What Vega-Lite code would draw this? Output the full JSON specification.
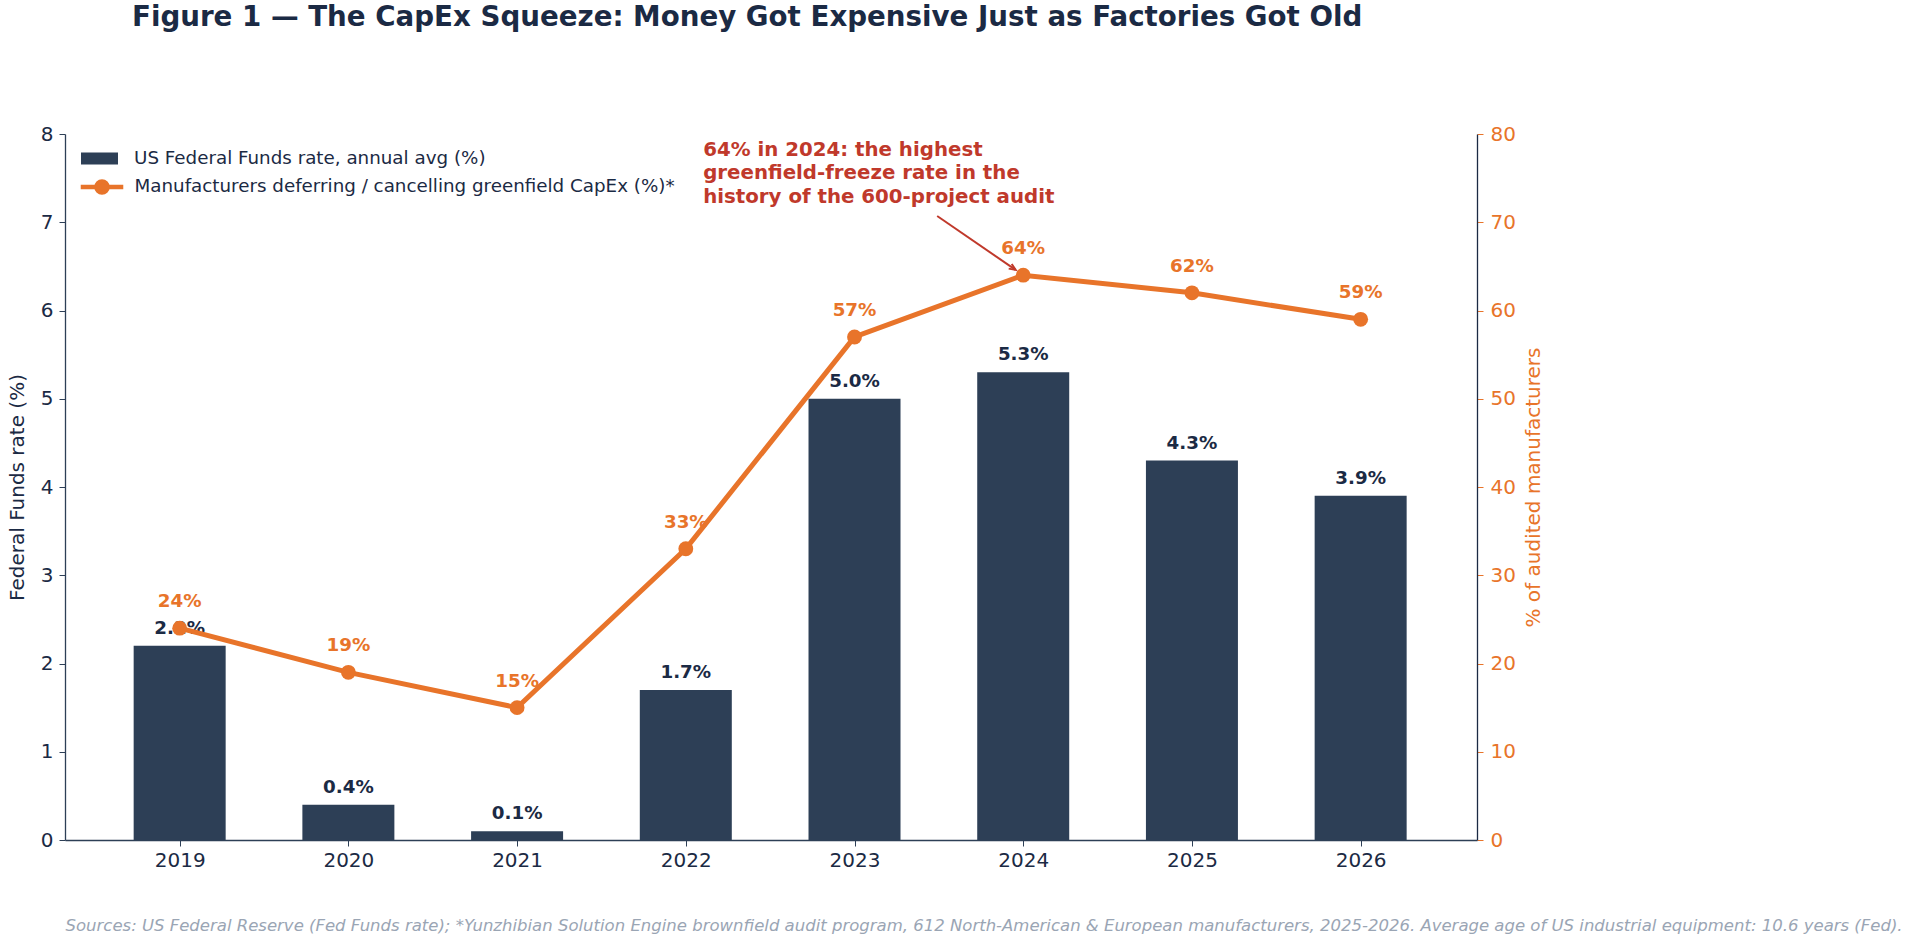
{
  "$schema": "https://vega.github.io/schema/vega-lite/v6.json",
  "width": 1412,
  "height": 706,
  "autosize": {"type": "none"},
  "padding": {"left": 65, "top": 134, "right": 437, "bottom": 106},
  "background": "white",
  "title": {
    "text": "Figure 1 — The CapEx Squeeze: Money Got Expensive Just as Factories Got Old",
    "anchor": "start",
    "frame": "group",
    "dx": 67,
    "offset": 92,
    "font": "DejaVu Sans",
    "fontSize": 27.7,
    "fontWeight": "bold",
    "color": "#1b2a44"
  },
  "config": {
    "view": {"stroke": null},
    "font": "DejaVu Sans",
    "axis": {"grid": false, "labelFont": "DejaVu Sans", "titleFont": "DejaVu Sans", "titleFontWeight": "normal"},
    "legend": {"labelFont": "DejaVu Sans"}
  },
  "encoding": {
    "x": {
      "field": "year",
      "type": "quantitative",
      "scale": {"domain": [2018.35, 2026.66], "nice": false, "zero": false},
      "axis": {
        "values": [2019, 2020, 2021, 2022, 2023, 2024, 2025, 2026],
        "format": "d",
        "labelFontSize": 20,
        "labelColor": "#1b2a44",
        "labelPadding": 4,
        "domainColor": "#2d3f56",
        "domainWidth": 1.3,
        "tickColor": "#2d3f56",
        "tickSize": 6,
        "title": "Sources: US Federal Reserve (Fed Funds rate); *Yunzhibian Solution Engine brownfield audit program, 612 North-American & European manufacturers, 2025-2026. Average age of US industrial equipment: 10.6 years (Fed).",
        "titleFontSize": 16.5,
        "titleFontStyle": "italic",
        "titleColor": "#9aa5b4",
        "titleAnchor": "start",
        "titleAlign": "left",
        "titlePadding": 47,
        "titleLimit": 2000
      }
    }
  },
  "layer": [
    {
      "data": {
        "values": [
          {"year": 2019, "rate": 2.2, "label": "2.2%", "series": "US Federal Funds rate, annual avg (%)"},
          {"year": 2020, "rate": 0.4, "label": "0.4%", "series": "US Federal Funds rate, annual avg (%)"},
          {"year": 2021, "rate": 0.1, "label": "0.1%", "series": "US Federal Funds rate, annual avg (%)"},
          {"year": 2022, "rate": 1.7, "label": "1.7%", "series": "US Federal Funds rate, annual avg (%)"},
          {"year": 2023, "rate": 5.0, "label": "5.0%", "series": "US Federal Funds rate, annual avg (%)"},
          {"year": 2024, "rate": 5.3, "label": "5.3%", "series": "US Federal Funds rate, annual avg (%)"},
          {"year": 2025, "rate": 4.3, "label": "4.3%", "series": "US Federal Funds rate, annual avg (%)"},
          {"year": 2026, "rate": 3.9, "label": "3.9%", "series": "US Federal Funds rate, annual avg (%)"}
        ]
      },
      "encoding": {
        "y": {
          "field": "rate",
          "type": "quantitative",
          "scale": {"domain": [0, 8], "nice": false},
          "axis": {
            "values": [0, 1, 2, 3, 4, 5, 6, 7, 8],
            "title": "Federal Funds rate (%)",
            "titleFontSize": 20,
            "titleColor": "#1b2a44",
            "titlePadding": 12.5,
            "labelFontSize": 20,
            "labelColor": "#1b2a44",
            "labelPadding": 6,
            "domainColor": "#2d3f56",
            "domainWidth": 1.3,
            "tickColor": "#2d3f56",
            "tickSize": 6
          }
        }
      },
      "layer": [
        {
          "mark": {"type": "bar", "width": 92},
          "encoding": {
            "fill": {
              "field": "series",
              "type": "nominal",
              "scale": {"range": ["#2d3f56"]},
              "legend": {
                "title": null,
                "orient": "none",
                "legendX": 16,
                "legendY": 6,
                "symbolType": "M-1,-0.32H1V0.32H-1Z",
                "symbolSize": 1369,
                "symbolStrokeWidth": 0,
                "labelFontSize": 18.3,
                "labelColor": "#1b2a44",
                "labelOffset": 16,
                "labelLimit": 1000
              }
            }
          }
        },
        {
          "mark": {"type": "text", "fontWeight": "bold", "fontSize": 18.3, "color": "#1b2a44", "baseline": "middle", "dy": -17},
          "encoding": {"text": {"field": "label"}}
        }
      ]
    },
    {
      "encoding": {
        "y": {
          "field": "pct",
          "type": "quantitative",
          "scale": {"domain": [0, 80], "nice": false},
          "axis": {
            "orient": "right",
            "values": [0, 10, 20, 30, 40, 50, 60, 70, 80],
            "title": "% of audited manufacturers",
            "titleFontSize": 20,
            "titleColor": "#e8742a",
            "titleAngle": 270,
            "titleBaseline": "top",
            "titlePadding": 8,
            "labelFontSize": 20,
            "labelColor": "#e8742a",
            "labelPadding": 7,
            "domainColor": "#1b2a44",
            "domainWidth": 1.3,
            "tickColor": "#e8742a",
            "tickSize": 6
          }
        }
      },
      "layer": [
        {
          "data": {
            "values": [
              {"year": 2019, "pct": 24, "label": "24%", "series": "Manufacturers deferring / cancelling greenfield CapEx (%)*"},
              {"year": 2020, "pct": 19, "label": "19%", "series": "Manufacturers deferring / cancelling greenfield CapEx (%)*"},
              {"year": 2021, "pct": 15, "label": "15%", "series": "Manufacturers deferring / cancelling greenfield CapEx (%)*"},
              {"year": 2022, "pct": 33, "label": "33%", "series": "Manufacturers deferring / cancelling greenfield CapEx (%)*"},
              {"year": 2023, "pct": 57, "label": "57%", "series": "Manufacturers deferring / cancelling greenfield CapEx (%)*"},
              {"year": 2024, "pct": 64, "label": "64%", "series": "Manufacturers deferring / cancelling greenfield CapEx (%)*"},
              {"year": 2025, "pct": 62, "label": "62%", "series": "Manufacturers deferring / cancelling greenfield CapEx (%)*"},
              {"year": 2026, "pct": 59, "label": "59%", "series": "Manufacturers deferring / cancelling greenfield CapEx (%)*"}
            ]
          },
          "layer": [
            {
              "mark": {"type": "line", "strokeWidth": 5, "point": {"filled": true, "size": 220, "fill": "#e8742a", "strokeWidth": 0}},
              "encoding": {
                "stroke": {
                  "field": "series",
                  "type": "nominal",
                  "scale": {"range": ["#e8742a"]},
                  "legend": {
                    "title": null,
                    "orient": "none",
                    "legendX": 16,
                    "legendY": 32,
                    "symbolType": "M-1.15,0H1.15M-0.3,0A0.3,0.3 0 1,0 0.3,0A0.3,0.3 0 1,0 -0.3,0",
                    "symbolSize": 1369,
                    "symbolStrokeWidth": 4.5,
                    "labelFontSize": 18.3,
                    "labelColor": "#1b2a44",
                    "labelOffset": 11.5,
                    "labelLimit": 1000,
                    "encode": {"symbols": {"update": {"fill": {"value": "#e8742a"}, "stroke": {"value": "#e8742a"}}}}
                  }
                }
              }
            },
            {
              "mark": {"type": "text", "fontWeight": "bold", "fontSize": 18.3, "color": "#e8742a", "baseline": "middle", "dy": -26},
              "encoding": {"text": {"field": "label"}}
            }
          ]
        },
        {
          "data": {
            "values": [
              {"year": 2022.103, "pct": 78.19, "line": "64% in 2024: the highest"},
              {"year": 2022.103, "pct": 75.58, "line": "greenfield-freeze rate in the"},
              {"year": 2022.103, "pct": 72.86, "line": "history of the 600-project audit"}
            ]
          },
          "mark": {"type": "text", "align": "left", "baseline": "middle", "fontWeight": "bold", "fontSize": 19.8, "color": "#c0392b"},
          "encoding": {"text": {"field": "line"}}
        },
        {
          "data": {"values": [{"year": 2023.49, "pct": 70.71, "year2": 2023.955, "pct2": 64.6}]},
          "mark": {"type": "rule", "color": "#c0392b", "strokeWidth": 2},
          "encoding": {"x2": {"field": "year2"}, "y2": {"field": "pct2"}}
        },
        {
          "data": {"values": [{"year": 2023.955, "pct": 64.6}]},
          "mark": {"type": "point", "shape": "M-0.55,1.3L0,0L0.55,1.3", "filled": false, "size": 100, "angle": 123.5, "color": "#c0392b", "strokeWidth": 2, "opacity": 1},
          "encoding": {}
        }
      ]
    }
  ],
  "resolve": {"scale": {"y": "independent"}, "axis": {"y": "independent"}}
}
